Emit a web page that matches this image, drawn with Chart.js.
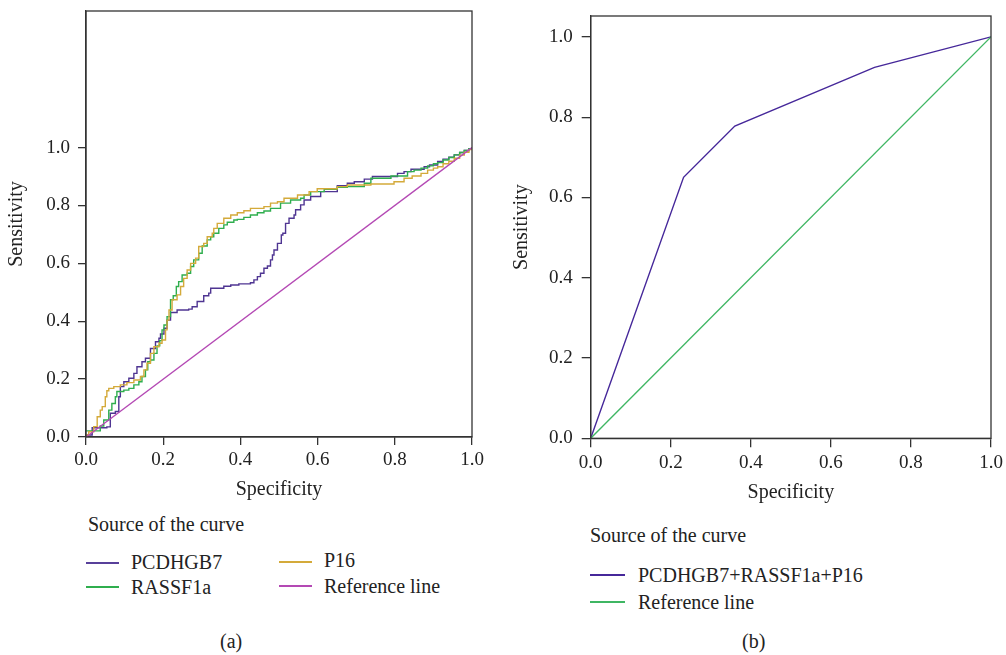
<!DOCTYPE html>
<html>
<head>
<meta charset="utf-8">
<script src="https://cdn.jsdelivr.net/npm/chart.js@4"></script>
<style>
  body { margin: 0; background: #fff; width: 1006px; height: 655px; position: relative; overflow: hidden;
         font-family: "Liberation Serif", "Times New Roman", serif; color: #222; }
  canvas { position: absolute; }
  .t { position: absolute; font-size: 20px; line-height: 24px; height: 24px; white-space: nowrap; }
  .sw { position: absolute; height: 2px; }
</style>
</head>
<body>
<canvas id="chartA" style="left:0;top:0;width:490px;height:505px"></canvas>
<canvas id="chartB" style="left:500px;top:0;width:506px;height:508px"></canvas>

<div class="t" style="left:88px;top:512px">Source of the curve</div>
<div class="sw" style="left:86px;top:562px;width:33px;background:#58409a"></div>
<div class="t" style="left:131px;top:550px">PCDHGB7</div>
<div class="sw" style="left:86px;top:586px;width:33px;background:#2fae4e"></div>
<div class="t" style="left:131px;top:575px">RASSF1a</div>
<div class="sw" style="left:279px;top:561px;width:33px;background:#d4aa3a"></div>
<div class="t" style="left:324px;top:548px">P16</div>
<div class="sw" style="left:279px;top:585px;width:33px;background:#b449b4"></div>
<div class="t" style="left:324px;top:574px">Reference line</div>
<div class="t" style="left:220px;top:629px">(a)</div>

<div class="t" style="left:590px;top:523px">Source of the curve</div>
<div class="sw" style="left:590px;top:574px;width:35px;background:#46289a"></div>
<div class="t" style="left:638px;top:563px">PCDHGB7+RASSF1a+P16</div>
<div class="sw" style="left:590px;top:601px;width:35px;background:#3fb663"></div>
<div class="t" style="left:638px;top:590px">Reference line</div>
<div class="t" style="left:742px;top:629px">(b)</div>

<script>
// panel (a) ROC curves (x = specificity axis, y = sensitivity)
const pcdhgb7X = [0, 0.016, 0.054, 0.063, 0.076, 0.085, 0.089, 0.098, 0.111, 0.124, 0.132, 0.145, 0.154, 0.167, 0.180, 0.189, 0.193, 0.202, 0.210, 0.219, 0.236, 0.266, 0.275, 0.288, 0.305, 0.318, 0.323, 0.357, 0.375, 0.396, 0.426, 0.435, 0.444, 0.452, 0.461, 0.470, 0.478, 0.483, 0.487, 0.496, 0.506, 0.510, 0.517, 0.526, 0.539, 0.543, 0.556, 0.565, 0.582, 0.608, 0.651, 0.677, 0.695, 0.721, 0.742, 0.807, 0.824, 0.842, 0.859, 0.876, 0.890, 0.911, 0.925, 0.940, 0.954, 0.968, 0.980, 0.992, 1];
const pcdhgb7Y = [0.007, 0.032, 0.035, 0.082, 0.088, 0.139, 0.174, 0.191, 0.203, 0.220, 0.243, 0.260, 0.272, 0.306, 0.329, 0.341, 0.356, 0.376, 0.404, 0.430, 0.439, 0.442, 0.450, 0.468, 0.488, 0.497, 0.514, 0.521, 0.525, 0.529, 0.533, 0.543, 0.554, 0.566, 0.583, 0.591, 0.612, 0.629, 0.646, 0.669, 0.698, 0.704, 0.738, 0.756, 0.767, 0.785, 0.802, 0.819, 0.831, 0.848, 0.868, 0.877, 0.882, 0.891, 0.900, 0.911, 0.917, 0.925, 0.925, 0.934, 0.940, 0.952, 0.960, 0.967, 0.975, 0.983, 0.990, 0.996, 1];

const rassf1aX = [0, 0.037, 0.046, 0.059, 0.067, 0.076, 0.080, 0.098, 0.111, 0.124, 0.137, 0.145, 0.154, 0.160, 0.167, 0.176, 0.184, 0.191, 0.197, 0.202, 0.210, 0.219, 0.226, 0.234, 0.240, 0.249, 0.262, 0.271, 0.279, 0.292, 0.301, 0.314, 0.323, 0.331, 0.344, 0.357, 0.366, 0.383, 0.392, 0.409, 0.426, 0.444, 0.461, 0.478, 0.504, 0.530, 0.556, 0.565, 0.582, 0.617, 0.651, 0.677, 0.721, 0.738, 0.790, 0.833, 0.850, 0.868, 0.885, 0.900, 0.911, 0.925, 0.940, 0.954, 0.968, 0.980, 0.992, 1];
const rassf1aY = [0.021, 0.038, 0.059, 0.093, 0.116, 0.139, 0.157, 0.162, 0.168, 0.180, 0.191, 0.209, 0.232, 0.260, 0.266, 0.289, 0.315, 0.333, 0.370, 0.387, 0.416, 0.474, 0.488, 0.520, 0.537, 0.560, 0.566, 0.589, 0.612, 0.635, 0.660, 0.681, 0.692, 0.704, 0.721, 0.733, 0.742, 0.750, 0.752, 0.759, 0.767, 0.775, 0.781, 0.790, 0.808, 0.819, 0.825, 0.836, 0.848, 0.856, 0.863, 0.865, 0.877, 0.894, 0.902, 0.917, 0.922, 0.929, 0.937, 0.944, 0.948, 0.957, 0.966, 0.975, 0.983, 0.990, 0.996, 1];

const p16X = [0, 0.007, 0.020, 0.029, 0.037, 0.042, 0.050, 0.054, 0.059, 0.072, 0.089, 0.106, 0.124, 0.141, 0.150, 0.158, 0.167, 0.176, 0.189, 0.197, 0.206, 0.210, 0.215, 0.223, 0.236, 0.245, 0.253, 0.262, 0.271, 0.284, 0.292, 0.305, 0.314, 0.327, 0.331, 0.340, 0.357, 0.375, 0.392, 0.409, 0.426, 0.461, 0.478, 0.496, 0.513, 0.548, 0.578, 0.599, 0.651, 0.677, 0.738, 0.798, 0.824, 0.845, 0.868, 0.885, 0.900, 0.911, 0.925, 0.940, 0.954, 0.968, 0.980, 0.992, 1];
const p16Y = [0.007, 0.018, 0.036, 0.070, 0.093, 0.105, 0.139, 0.160, 0.168, 0.174, 0.180, 0.188, 0.197, 0.209, 0.232, 0.255, 0.289, 0.312, 0.324, 0.335, 0.370, 0.404, 0.439, 0.474, 0.491, 0.520, 0.548, 0.577, 0.600, 0.618, 0.658, 0.669, 0.692, 0.704, 0.721, 0.738, 0.756, 0.767, 0.775, 0.782, 0.790, 0.796, 0.808, 0.813, 0.825, 0.836, 0.848, 0.858, 0.865, 0.871, 0.874, 0.882, 0.894, 0.902, 0.911, 0.922, 0.929, 0.934, 0.944, 0.953, 0.963, 0.974, 0.984, 0.993, 1];

// panel (b) combined marker curve
const comboX = [0, 0.232, 0.360, 0.709, 1];
const comboY = [0, 0.650, 0.778, 0.924, 1];

const refX = [0, 1];
const refY = [0, 1];
const tickValues = [0, 0.2, 0.4, 0.6, 0.8, 1.0];

const toPts = (xs, ys) => xs.map((x, i) => ({ x: x, y: ys[i] }));

const frame = {
  id: "frame",
  afterDraw(chart) {
    const a = chart.chartArea, ctx = chart.ctx;
    ctx.save();
    ctx.strokeStyle = "#333";
    ctx.lineWidth = 1.3;
    ctx.strokeRect(a.left, a.top, a.right - a.left, a.bottom - a.top);
    ctx.restore();
  }
};

function noPad(s) {
  s.paddingTop = 0; s.paddingBottom = 0; s.paddingLeft = 0; s.paddingRight = 0;
}

function makeOptions(cfg) {
  const tickFont = { family: "'Liberation Serif', serif", size: 19 };
  const titleFont = { family: "'Liberation Serif', serif", size: 20 };
  return {
    responsive: false,
    animation: false,
    layout: { padding: cfg.padding },
    plugins: { legend: { display: false }, tooltip: { enabled: false } },
    elements: { point: { radius: 0 } },
    scales: {
      x: {
        type: "linear", min: 0, max: 1,
        afterBuildTicks: s => { s.ticks = tickValues.map(v => ({ value: v })); },
        afterFit: s => { s.height = cfg.xHeight; noPad(s); },
        grid: { drawOnChartArea: false, color: "#333", tickColor: "#333", tickLength: cfg.tick, lineWidth: 1.3 },
        border: { color: "#333", width: 1.3 },
        ticks: { color: "#222", font: tickFont, padding: 4, maxRotation: 0, callback: v => v.toFixed(1) },
        title: { display: true, text: "Specificity", color: "#222", font: titleFont, padding: { top: 0, bottom: 0 } }
      },
      y: {
        type: "linear", min: 0, max: cfg.yMax,
        afterBuildTicks: s => { s.ticks = tickValues.map(v => ({ value: v })); },
        afterFit: s => { s.width = cfg.yWidth; noPad(s); },
        grid: { drawOnChartArea: false, color: "#333", tickColor: "#333", tickLength: cfg.tick, lineWidth: 1.3 },
        border: { color: "#333", width: 1.3 },
        ticks: { color: "#222", font: tickFont, padding: cfg.tick, callback: v => v.toFixed(1) },
        title: { display: true, text: "Sensitivity", color: "#222", font: titleFont, padding: { top: cfg.yTitlePad, bottom: 0 } }
      }
    }
  };
}

const line = (label, xs, ys, color, stepped) => ({
  label: label, data: toPts(xs, ys), borderColor: color, backgroundColor: color,
  borderWidth: 1.4, stepped: stepped, fill: false
});

new Chart(document.getElementById("chartA"), {
  type: "line",
  data: {
    datasets: [
      line("Reference line", refX, refY, "#b449b4", false),
      line("P16", p16X, p16Y, "#d4aa3a", true),
      line("RASSF1a", rassf1aX, rassf1aY, "#2fae4e", true),
      line("PCDHGB7", pcdhgb7X, pcdhgb7Y, "#4f3592", true)
    ]
  },
  options: makeOptions({ padding: { top: 11, right: 18, left: 0, bottom: 3 }, xHeight: 65, yWidth: 86, yMax: 1.472, tick: 8, yTitlePad: 5 }),
  plugins: [frame]
});

new Chart(document.getElementById("chartB"), {
  type: "line",
  data: {
    datasets: [
      line("Reference line", refX, refY, "#3fb663", false),
      line("PCDHGB7+RASSF1a+P16", comboX, comboY, "#46289a", false)
    ]
  },
  options: makeOptions({ padding: { top: 16, right: 15, left: 0, bottom: 3 }, xHeight: 66.7, yWidth: 90.7, yMax: 1.052, tick: 9, yTitlePad: 9.7 }),
  plugins: [frame]
});
</script>
</body>
</html>
